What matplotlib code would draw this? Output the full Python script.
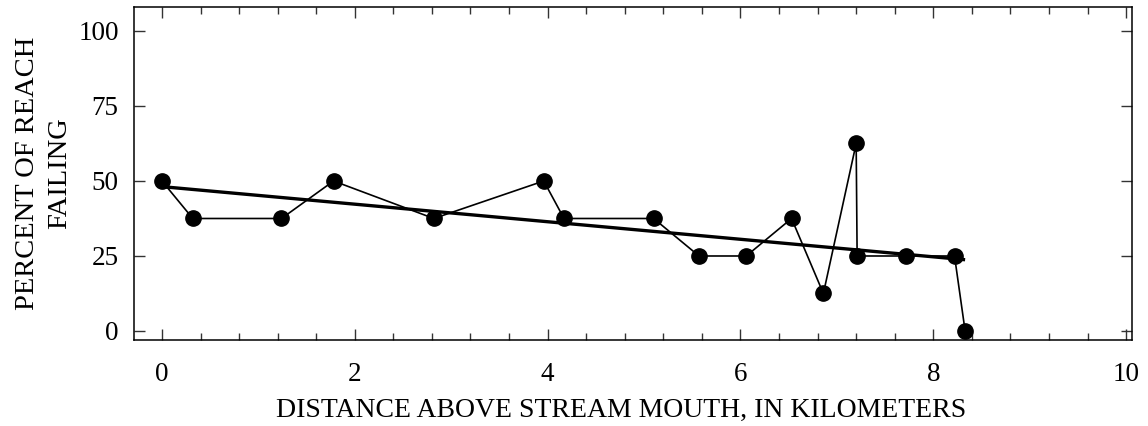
import matplotlib
matplotlib.use('Agg')
import matplotlib.pyplot as plt
import numpy as np
from matplotlib.ticker import MultipleLocator

plt.rcParams['font.family'] = ['Liberation Serif', 'DejaVu Serif']

# distance above stream mouth (km) and percent of reach failing
distance_km = [0.0, 0.32, 1.24, 1.78, 2.82, 3.96, 4.17, 5.10, 5.57, 6.06,
               6.53, 6.86, 7.20, 7.21, 7.72, 8.22, 8.33]
pct_failing = [50, 37.5, 37.5, 50, 37.5, 50, 37.5, 37.5, 25, 25,
               37.5, 12.5, 62.5, 25, 25, 25, 0]

x_ticks = [0, 2, 4, 6, 8, 10]
y_ticks = [0, 25, 50, 75, 100]

x = np.array(distance_km)
y = np.array(pct_failing)

# least-squares trend line over the sampled reach
slope, intercept = np.polyfit(x, y, 1)
xfit = np.array([x.min(), x.max()])
yfit = intercept + slope * xfit

fig = plt.figure(figsize=(11.48, 4.26), dpi=100)
ax = fig.add_axes([0.1167, 0.2019, 0.8693, 0.7817])

ax.plot(x, y, color='black', lw=1.2, marker='o', ms=11, zorder=3)
ax.plot(xfit, yfit, color='black', lw=2.4, solid_capstyle='butt', zorder=4)

ax.set_xlim(-0.29, 10.06)
ax.set_ylim(-3, 108)
ax.set_xticks(x_ticks)
ax.set_yticks(y_ticks)
ax.xaxis.set_minor_locator(MultipleLocator(0.4))

ax.tick_params(axis='both', which='both', direction='in',
               top=True, right=True, labelsize=19.5, width=1, color='#333333')
ax.tick_params(axis='x', which='major', length=8, pad=16)
ax.tick_params(axis='x', which='minor', length=5)
ax.tick_params(axis='y', which='major', length=8, pad=11)

for sp in ax.spines.values():
    sp.set_linewidth(1.1)

ax.set_xlabel('DISTANCE ABOVE STREAM MOUTH, IN KILOMETERS', fontsize=20)
ax.xaxis.set_label_coords(0.488, -0.175)
ax.set_ylabel('PERCENT OF REACH\nFAILING', fontsize=20.5, labelpad=4, linespacing=1.4)

fig.savefig('out.png', dpi=100)
